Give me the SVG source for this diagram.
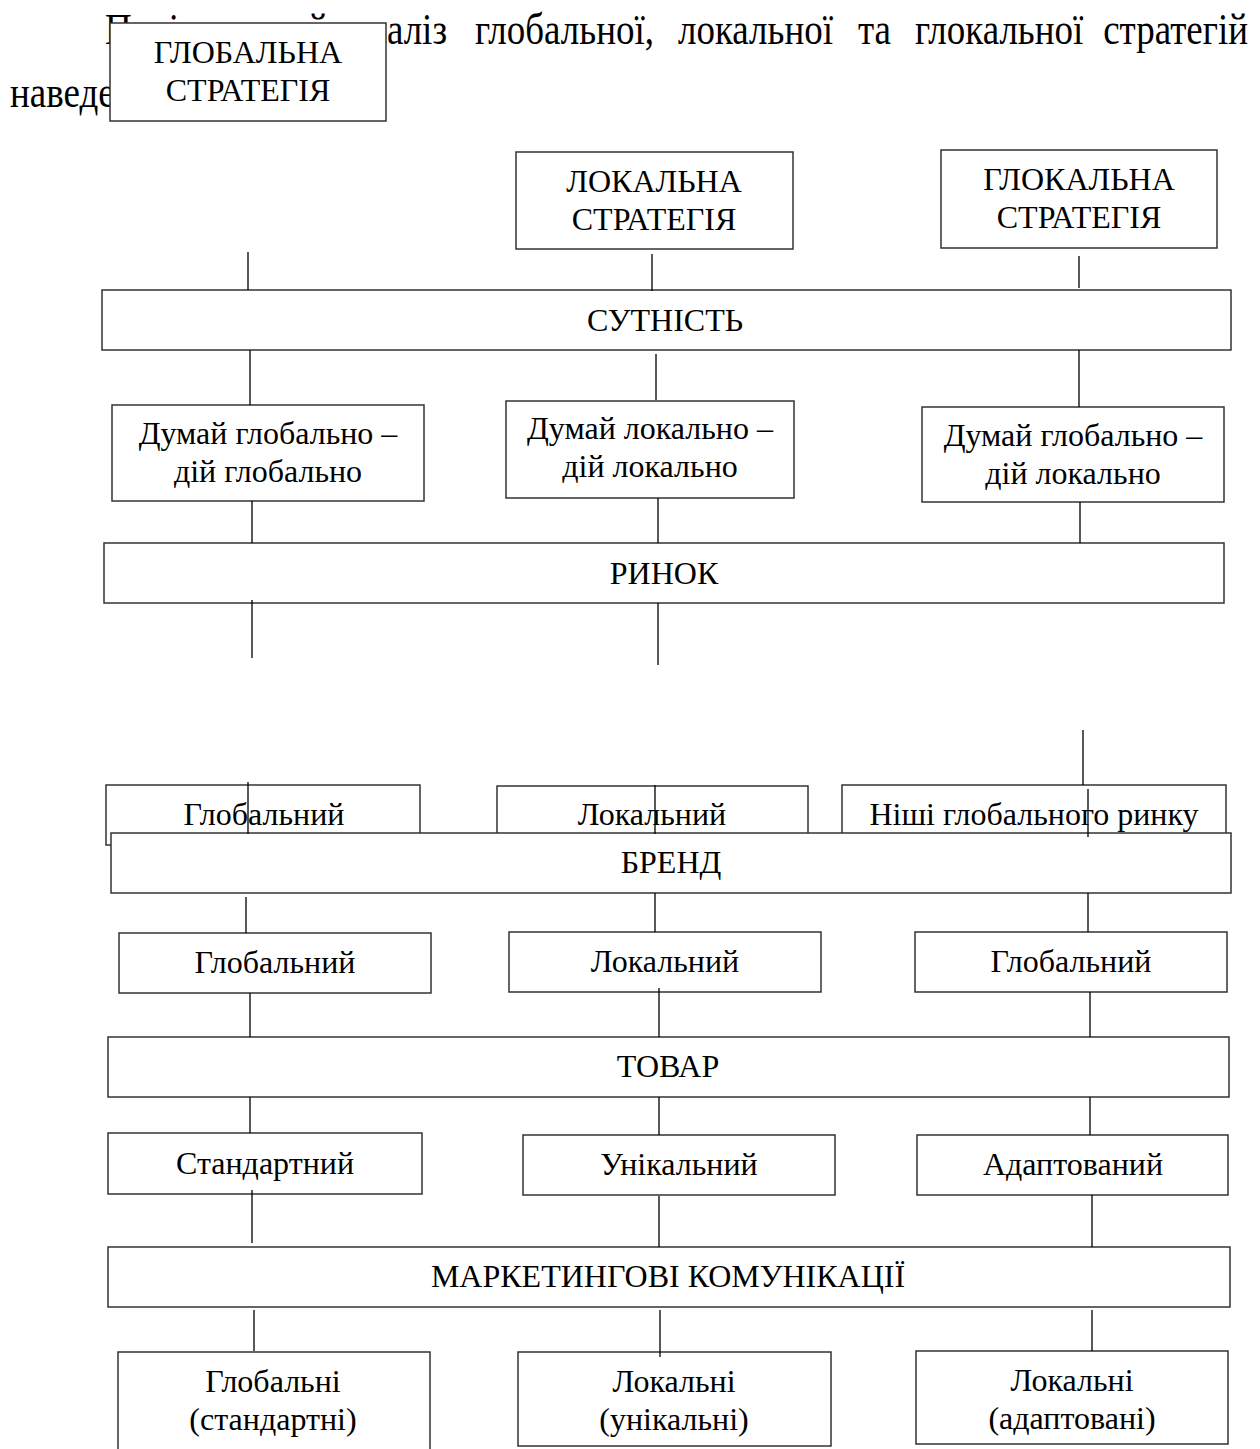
<svg xmlns="http://www.w3.org/2000/svg" width="1260" height="1449" viewBox="0 0 1260 1449">
<style>
.bg{fill:#ffffff}
.box{fill:#ffffff;stroke:#333333;stroke-width:1.5}
.t{font-family:"Liberation Serif","Times New Roman",serif;font-size:32px;fill:#000000;text-anchor:middle}
.body{font-family:"Liberation Serif","Times New Roman",serif;font-size:37px;fill:#000000}
.ln{stroke:#000000;stroke-width:1.3;fill:none}
</style>
<rect class="bg" x="0" y="0" width="1260" height="1449"/>
<g id="paragraph">
<text class="body" transform="matrix(1 0 0 1.18 105 44)">Порівняльний</text>
<text class="body" transform="matrix(1 0 0 1.18 447 44)" text-anchor="end">аналіз</text>
<text class="body" transform="matrix(1 0 0 1.18 475 44)">глобальної,</text>
<text class="body" transform="matrix(1 0 0 1.18 678 44)">локальної</text>
<text class="body" transform="matrix(1 0 0 1.18 858 44)">та</text>
<text class="body" transform="matrix(1 0 0 1.18 915 44)">глокальної</text>
<text class="body" transform="matrix(1 0 0 1.18 1248 44)" text-anchor="end">стратегій</text>
<text class="body" transform="matrix(1 0 0 1.18 10 107)">наведено</text>
</g>
<g id="n-global-strategy"><rect class="box" x="110" y="23" width="276" height="98"/><text class="t" x="248" y="63">ГЛОБАЛЬНА</text><text class="t" x="248" y="101">СТРАТЕГІЯ</text></g>
<g id="n-local-strategy"><rect class="box" x="516" y="152" width="277" height="97"/><text class="t" x="654" y="192">ЛОКАЛЬНА</text><text class="t" x="654" y="230">СТРАТЕГІЯ</text></g>
<g id="n-glocal-strategy"><rect class="box" x="941" y="150" width="276" height="98"/><text class="t" x="1079" y="190">ГЛОКАЛЬНА</text><text class="t" x="1079" y="228">СТРАТЕГІЯ</text></g>
<g id="n-essence"><rect class="box" x="102" y="290" width="1129" height="60"/><text class="t" x="665" y="331">СУТНІСТЬ</text></g>
<g id="n-think-gg"><rect class="box" x="112" y="405" width="312" height="96"/><text class="t" x="268" y="444">Думай глобально –</text><text class="t" x="268" y="482">дій глобально</text></g>
<g id="n-think-ll"><rect class="box" x="506" y="401" width="288" height="97"/><text class="t" x="650" y="439">Думай локально –</text><text class="t" x="650" y="477">дій локально</text></g>
<g id="n-think-gl"><rect class="box" x="922" y="407" width="302" height="95"/><text class="t" x="1073" y="446">Думай глобально –</text><text class="t" x="1073" y="484">дій локально</text></g>
<g id="n-market"><rect class="box" x="104" y="543" width="1120" height="60"/><text class="t" x="664" y="584">РИНОК</text></g>
<g id="n-market-global"><rect class="box" x="106" y="785" width="314" height="60"/><text class="t" x="264" y="825">Глобальний</text></g>
<g id="n-market-local"><rect class="box" x="497" y="786" width="311" height="60"/><text class="t" x="652" y="825">Локальний</text></g>
<g id="n-market-niche"><rect class="box" x="842" y="785" width="384" height="60"/><text class="t" x="1034" y="825">Ніші глобального ринку</text></g>
<g id="n-brand"><rect class="box" x="111" y="833" width="1120" height="60"/><text class="t" x="671" y="873">БРЕНД</text></g>
<g id="n-brand-global"><rect class="box" x="119" y="933" width="312" height="60"/><text class="t" x="275" y="973">Глобальний</text></g>
<g id="n-brand-local"><rect class="box" x="509" y="932" width="312" height="60"/><text class="t" x="665" y="972">Локальний</text></g>
<g id="n-brand-glocal"><rect class="box" x="915" y="932" width="312" height="60"/><text class="t" x="1071" y="972">Глобальний</text></g>
<g id="n-product"><rect class="box" x="108" y="1037" width="1121" height="60"/><text class="t" x="668" y="1077">ТОВАР</text></g>
<g id="n-product-std"><rect class="box" x="108" y="1133" width="314" height="61"/><text class="t" x="265" y="1174">Стандартний</text></g>
<g id="n-product-uniq"><rect class="box" x="523" y="1135" width="312" height="60"/><text class="t" x="679" y="1175">Унікальний</text></g>
<g id="n-product-adapt"><rect class="box" x="917" y="1135" width="311" height="60"/><text class="t" x="1073" y="1175">Адаптований</text></g>
<g id="n-marcom"><rect class="box" x="108" y="1247" width="1122" height="60"/><text class="t" x="668" y="1287">МАРКЕТИНГОВІ КОМУНІКАЦІЇ</text></g>
<g id="n-marcom-global"><rect class="box" x="118" y="1352" width="312" height="110"/><text class="t" x="273" y="1392">Глобальні</text><text class="t" x="273" y="1430">(стандартні)</text></g>
<g id="n-marcom-local"><rect class="box" x="518" y="1352" width="313" height="94"/><text class="t" x="674" y="1392">Локальні</text><text class="t" x="674" y="1430">(унікальні)</text></g>
<g id="n-marcom-adapt"><rect class="box" x="916" y="1351" width="312" height="93"/><text class="t" x="1072" y="1391">Локальні</text><text class="t" x="1072" y="1429">(адаптовані)</text></g>
<g id="connectors">
<line class="ln" x1="248" y1="252" x2="248" y2="290"/>
<line class="ln" x1="652" y1="254" x2="652" y2="291"/>
<line class="ln" x1="1079" y1="256" x2="1079" y2="288"/>
<line class="ln" x1="250" y1="350" x2="250" y2="405"/>
<line class="ln" x1="656" y1="354" x2="656" y2="400"/>
<line class="ln" x1="1079" y1="350" x2="1079" y2="407"/>
<line class="ln" x1="252" y1="501" x2="252" y2="543"/>
<line class="ln" x1="658" y1="498" x2="658" y2="543"/>
<line class="ln" x1="1080" y1="502" x2="1080" y2="543"/>
<line class="ln" x1="252" y1="600" x2="252" y2="658"/>
<line class="ln" x1="658" y1="603" x2="658" y2="665"/>
<line class="ln" x1="1083" y1="730" x2="1083" y2="785"/>
<line class="ln" x1="248" y1="782" x2="248" y2="834"/>
<line class="ln" x1="655" y1="785" x2="655" y2="834"/>
<line class="ln" x1="1088" y1="789" x2="1088" y2="837"/>
<line class="ln" x1="246" y1="897" x2="246" y2="933"/>
<line class="ln" x1="655" y1="893" x2="655" y2="932"/>
<line class="ln" x1="1088" y1="893" x2="1088" y2="932"/>
<line class="ln" x1="250" y1="993" x2="250" y2="1037"/>
<line class="ln" x1="659" y1="988" x2="659" y2="1037"/>
<line class="ln" x1="1090" y1="992" x2="1090" y2="1037"/>
<line class="ln" x1="250" y1="1097" x2="250" y2="1133"/>
<line class="ln" x1="659" y1="1097" x2="659" y2="1135"/>
<line class="ln" x1="1090" y1="1097" x2="1090" y2="1135"/>
<line class="ln" x1="252" y1="1190" x2="252" y2="1243"/>
<line class="ln" x1="659" y1="1196" x2="659" y2="1247"/>
<line class="ln" x1="1092" y1="1195" x2="1092" y2="1247"/>
<line class="ln" x1="254" y1="1310" x2="254" y2="1351"/>
<line class="ln" x1="660" y1="1310" x2="660" y2="1357"/>
<line class="ln" x1="1092" y1="1310" x2="1092" y2="1351"/>
</g>
</svg>
